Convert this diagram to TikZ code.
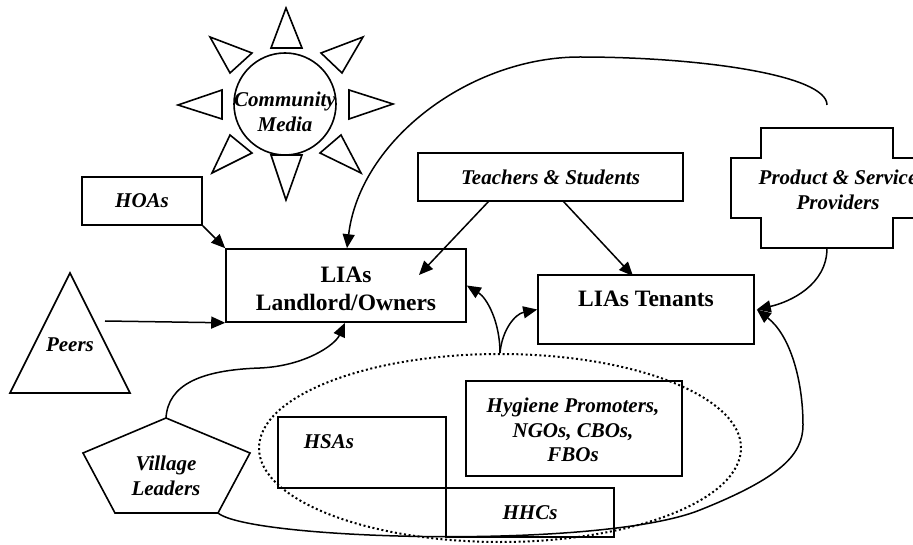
\documentclass[tikz,border=0pt]{standalone}
\usepackage{fontspec}
\setmainfont{Liberation Serif}
\usetikzlibrary{arrows.meta,shapes.geometric}
\begin{document}
\begin{tikzpicture}[x=1pt,y=-1pt,
  box/.style={draw, line width=1.6pt, inner sep=0pt},
  lbl/.style={font=\bfseries\itshape\fontsize{21}{24.5}\selectfont, align=center, inner sep=0pt},
  blbl/.style={font=\bfseries\fontsize{23.5}{28}\selectfont, align=center, inner sep=0pt},
  arr/.style={line width=1.5pt, -{Triangle[length=14pt,width=12pt]}},
  shp/.style={line width=1.6pt, line join=miter},
  dots/.style={line width=2pt, dash pattern=on 2pt off 2.6pt}
]
\useasboundingbox (0,0) rectangle (913,545);
\clip (0,0) rectangle (913,545);

% ---- Community media (sun) ----
\node[draw, circle, line width=1.6pt, minimum size=102pt, inner sep=0pt] (media) at (285,104) {};
\node[lbl] (mediatxt) at (285,112) {Community\\Media};
\draw[shp] (286,8) -- (271,48) -- (302,48) -- cycle;
\draw[shp] (271,155) -- (302,155) -- (286,200) -- cycle;
\draw[shp] (178,105) -- (222,90) -- (222,119) -- cycle;
\draw[shp] (349,90) -- (349,119) -- (393,104) -- cycle;
\draw[shp] (210,37) -- (252,53) -- (230,73) -- cycle;
\draw[shp] (363,37) -- (321,53) -- (342,73) -- cycle;
\draw[shp] (230,135) -- (252,153) -- (212,173) -- cycle;
\draw[shp] (341,135) -- (320,153) -- (361,173) -- cycle;

% ---- boxes ----
\node[box, minimum width=120pt, minimum height=48pt] (hoas) at (142,201) {};
\node[lbl] (hoastxt) at (142,201) {HOAs};

\node[box, minimum width=240pt, minimum height=73pt] (lias) at (346,285.5) {};
\node[blbl] (liastxt) at (346,289) {LIAs\\Landlord/Owners};

\node[box, minimum width=265pt, minimum height=48pt] (teach) at (550.5,177) {};
\node[lbl] (teachtxt) at (550.5,177) {Teachers \& Students};

\node[box, minimum width=216pt, minimum height=69pt] (ten) at (646,309.5) {};
\node[blbl] (tentxt) at (646,299) {LIAs Tenants};

% product & service providers (cross)
\draw[shp] (761,128) -- (893,128) -- (893,158) -- (923,158) -- (923,218) -- (893,218)
  -- (893,248) -- (761,248) -- (761,218) -- (731,218) -- (731,158) -- (761,158) -- cycle;
\coordinate (prodS) at (827,248);
\node[lbl] (prodtxt) at (838,190) {Product \& Service\\Providers};

% peers triangle
\draw[shp] (70,273) -- (130,393) -- (10,393) -- cycle;
\node[lbl] (peerstxt) at (70,345) {Peers};
\coordinate (peersR) at (105,321);

% village leaders pentagon
\coordinate (vtop) at (166,418);
\coordinate (vbr) at (218,513);
\draw[shp] (vtop) -- (250,453) -- (vbr) -- (115,513) -- (83,453) -- cycle;
\node[lbl] (villtxt) at (166,476) {Village\\Leaders};

% group ellipse
\node[draw, dots, ellipse, minimum width=482pt, minimum height=188pt, inner sep=0pt] (grp) at (500,448) {};
\node[box, minimum width=168pt, minimum height=71pt] (hsas) at (362,452.5) {};
\node[lbl] (hsastxt) at (329,442) {HSAs};
\node[box, minimum width=168pt, minimum height=49pt] (hhcs) at (530,512.5) {};
\node[lbl] (hhcstxt) at (530,513) {HHCs};
\node[box, minimum width=216pt, minimum height=95pt] (hyg) at (574,428.5) {};
\node[lbl] (hygtxt) at (573,430) {Hygiene Promoters,\\NGOs, CBOs,\\FBOs};

% ---- connectors ----
\draw[arr] (hoas.south east) -- (lias.north west);
\draw[arr] (peersR) -- (lias.south west);

\coordinate (tA) at (489,201);
\coordinate (tAend) at (419,275);
\coordinate (tB) at (563,201);
\coordinate (tBend) at (633,276);
\draw[arr] (tA) -- (tAend);
\draw[arr] (tB) -- (tBend);

\coordinate (medEnd) at (827,105);
\draw[arr] (medEnd) .. controls (827,75) and (700,57) .. (580,57)
  .. controls (470,57) and (360,140) .. ([xshift=1pt]lias.north);

\draw[arr] (prodS) .. controls (827,285) and (790,302) .. ([xshift=2pt]ten.east);

\draw[arr] (vbr) .. controls (250,540) and (600,550) .. (700,510)
  .. controls (780,478) and (803,455) .. (803,425)
  .. controls (803,380) and (790,335) .. ([xshift=2pt]ten.east);

\draw[arr] (vtop) .. controls (168,385) and (200,370) .. (260,368)
  .. controls (305,366) and (335,345) .. ([xshift=-1pt]lias.south);

\draw[arr] (grp.north) .. controls (500,322) and (487,298) .. (lias.east);
\draw[arr] (grp.north) .. controls (502,330) and (515,314) .. (ten.west);
\end{tikzpicture}
\end{document}
